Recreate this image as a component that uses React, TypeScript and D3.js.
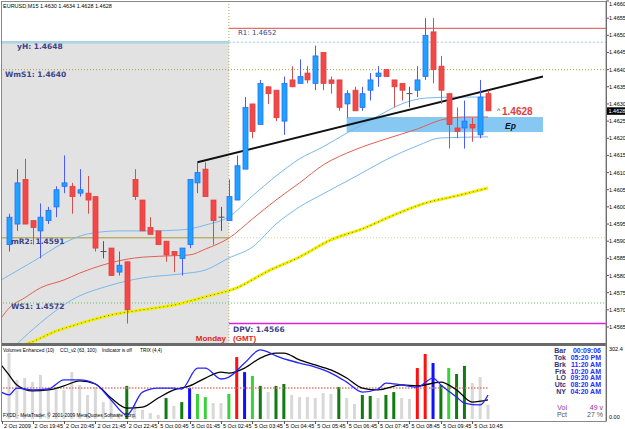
import React from "react";
import * as d3 from "d3";

// ---- data ----
const title = "EURUSD,M15  1.4630 1.4634 1.4628 1.4628";

const opens = [1.4589, 1.4595, 1.4608, 1.4596, 1.4593, 1.4596, 1.46, 1.4606, 1.4606, 1.4604, 1.4604, 1.4603, 1.4587, 1.4588, 1.4581, 1.4584,
  1.4608, 1.4602, 1.4594, 1.4593, 1.459, 1.4587, 1.4585, 1.4589, 1.4607, 1.4611, 1.4602, 1.4597, 1.4596, 1.4602, 1.4611, 1.463,
  1.4624, 1.4635, 1.4634, 1.4625, 1.4637, 1.4636, 1.4639, 1.4636, 1.4645, 1.4637, 1.4637, 1.463, 1.4634, 1.4629, 1.4634, 1.4638,
  1.464, 1.4637, 1.4636, 1.4633, 1.4634, 1.4638, 1.4651, 1.4641, 1.4633, 1.4623, 1.4623, 1.4624, 1.4621, 1.4633];
const highs = [1.4598, 1.4611, 1.4614, 1.4596, 1.4601, 1.46, 1.4606, 1.4615, 1.4607, 1.4611, 1.4609, 1.4603, 1.459, 1.4588, 1.4587, 1.4584,
  1.4611, 1.4602, 1.4597, 1.4593, 1.459, 1.4587, 1.4588, 1.4608, 1.4613, 1.4613, 1.4602, 1.46, 1.4608, 1.4615, 1.4632, 1.463,
  1.4637, 1.4635, 1.4634, 1.4638, 1.4641, 1.4643, 1.4641, 1.4647, 1.4645, 1.4638, 1.4637, 1.4634, 1.4635, 1.4635, 1.4639, 1.4641,
  1.464, 1.4637, 1.4636, 1.4635, 1.4641, 1.4655, 1.4655, 1.4644, 1.4633, 1.4629, 1.4631, 1.4626, 1.4637, 1.4634];
const lows = [1.4587, 1.4593, 1.4595, 1.4589, 1.4585, 1.4595, 1.4597, 1.4604, 1.4598, 1.4603, 1.4598, 1.4587, 1.4585, 1.458, 1.458, 1.4566,
  1.4602, 1.4593, 1.4592, 1.4589, 1.4584, 1.4581, 1.458, 1.4588, 1.4604, 1.4603, 1.4589, 1.4593, 1.4596, 1.4602, 1.4611, 1.462,
  1.4624, 1.463, 1.4625, 1.4621, 1.4635, 1.4636, 1.4636, 1.4634, 1.4634, 1.4633, 1.4628, 1.4626, 1.4628, 1.4628, 1.4631, 1.4635,
  1.4638, 1.4629, 1.4631, 1.4629, 1.4632, 1.4637, 1.4636, 1.463, 1.4617, 1.462, 1.4617, 1.4619, 1.462, 1.4628];
const closes = [1.4597, 1.4607, 1.4595, 1.4594, 1.4597, 1.4599, 1.4605, 1.4607, 1.4603, 1.4605, 1.4602, 1.4588, 1.4587, 1.458, 1.4583, 1.457,
  1.4603, 1.4593, 1.4592, 1.4589, 1.4586, 1.4586, 1.4588, 1.4608, 1.461, 1.4603, 1.4596, 1.4597, 1.4603, 1.4612, 1.4629, 1.4622,
  1.4636, 1.4633, 1.4626, 1.4636, 1.4635, 1.4638, 1.4637, 1.4644, 1.4636, 1.4636, 1.4629, 1.4633, 1.4628, 1.4633, 1.4637, 1.4639,
  1.4638, 1.4635, 1.4634, 1.4633, 1.4637, 1.465, 1.464, 1.4634, 1.4624, 1.4622, 1.4625, 1.4623, 1.4632, 1.4628];

// moving averages / envelope, [bar index, price]
const upperBand = [[-1, 1.45787], [3, 1.4584], [7, 1.45895], [10, 1.45921], [14, 1.4593], [18, 1.4593], [22, 1.45933], [25, 1.45947],
  [28, 1.45971], [31, 1.46032], [34, 1.4609], [37, 1.4614], [40, 1.46175], [43, 1.46215], [47, 1.46265], [50, 1.463], [53, 1.46317],
  [57, 1.4632], [61, 1.4632]];
const midMA = [[-1, 1.45676], [0, 1.45705], [2, 1.45735], [4, 1.45764], [7, 1.45787], [9, 1.45807], [12, 1.45831], [16, 1.45851],
  [20, 1.45857], [23, 1.4586], [25, 1.45877], [28, 1.45909], [31, 1.45965], [34, 1.4602], [37, 1.4607], [40, 1.46122], [44, 1.46166],
  [48, 1.46198], [52, 1.46227], [55, 1.46253], [58, 1.46262], [61, 1.46262]];
const lowerBand = [[-1, 1.45554], [1, 1.456], [4, 1.45662], [8, 1.45729], [13, 1.45772], [17, 1.45793], [22, 1.45805], [25, 1.45816],
  [28, 1.45851], [31, 1.45883], [34, 1.4595], [37, 1.46], [40, 1.46038], [44, 1.46087], [48, 1.46137], [52, 1.46178], [55, 1.46201],
  [61, 1.46204]];
const slowMA = [[0, 1.45595], [2, 1.456], [6, 1.45638], [9, 1.4566], [13, 1.45685], [17, 1.457], [21, 1.45714], [25, 1.45738],
  [29, 1.45764], [33, 1.45813], [37, 1.45854], [41, 1.45904], [45, 1.45936], [49, 1.45976], [53, 1.46011], [57, 1.46032], [61, 1.46055]];

const trendLine = [[24, 1.4613], [68, 1.4638]];
const entryZone = { from: 43, to: 68, top: 1.46262, bottom: 1.46218 };

const levelNames = ["R1", "yH", "WmS1", "mR2", "WS1", "DPV"];
const levelPrices = [1.4652, 1.4648, 1.464, 1.4591, 1.4572, 1.4566];
const sessionStart = 28;

const priceTicks = [1.4565, 1.457, 1.4575, 1.458, 1.4585, 1.459, 1.4595, 1.46, 1.4605, 1.461, 1.4615, 1.462, 1.4625, 1.463,
  1.4635, 1.464, 1.4645, 1.465, 1.4655, 1.466];
const lastPrice = 1.4628;

const timeTickIdx = [3, 7, 11, 15, 19, 23, 27, 31, 35, 39, 43, 47, 51, 55, 59];
const timeTickLabels = ["2 Oct 19:45", "2 Oct 20:45", "2 Oct 21:45", "2 Oct 22:45", "5 Oct 00:45", "5 Oct 01:45", "5 Oct 02:45",
  "5 Oct 03:45", "5 Oct 04:45", "5 Oct 05:45", "5 Oct 06:45", "5 Oct 07:45", "5 Oct 08:45", "5 Oct 09:45", "5 Oct 10:45"];

// lower window
const volumes = [277, 164, 172, 155, 185, 130, 130, 122, 197, 143, 101, 134, 71, 80, 25, 139, 59, 38, 25, 17, 88, 55, 71, 130, 105, 92,
  67, 67, 105, 260, 197, 181, 139, 113, 139, 147, 101, 92, 92, 88, 109, 105, 134, 88, 63, 101, 97, 88, 101, 113, 88, 84, 214, 273,
  235, 143, 214, 189, 223, 151, 176, 59];
const volumeKinds = "gggggggggggggggdggggdgdbllgglrbldgddggggggdggddgddggrrbdlddggg";
const cciLine = [[-1, 113], [0, 101], [1, 130], [3, 122], [5, 126], [7, 164], [9, 164], [11, 147], [13, 80], [15, 17], [17, 113],
  [19, 130], [21, 130], [22, 126], [24, 214], [25, 214], [27, 168], [28, 176], [30, 235], [32, 290], [33, 281], [34, 265], [37, 235],
  [39, 218], [41, 193], [43, 155], [45, 113], [47, 126], [48, 151], [50, 143], [52, 134], [54, 172], [55, 143], [57, 92], [58, 67],
  [60, 59], [61, 101]];
const trixLine = [[-1, 227], [0, 185], [1, 143], [3, 118], [5, 122], [7, 139], [9, 160], [11, 147], [13, 88], [15, 46], [17, 50],
  [19, 88], [21, 122], [23, 139], [25, 172], [27, 197], [28, 193], [30, 214], [32, 256], [34, 277], [35, 277], [37, 248], [39, 227],
  [41, 206], [43, 172], [45, 130], [47, 122], [50, 143], [52, 139], [55, 155], [57, 122], [59, 71], [61, 80]];
const oscLevel = 130;
const volMax = 302.4;

const infoLabels = ["Bar", "Tok", "Brk", "Frk", "LO", "Utc", "NY"];
const infoValues = ["00:09:06", "05:20 PM", "11:20 AM", "10:20 AM", "09:20 AM", "08:20 AM", "04:20 AM"];

const volColor: Record<string, string> = { g: "#d8d8d8", d: "#137a13", l: "#3ad23a", r: "#ff1010", b: "#1010ff" };

export default function App() {
  const axisX = 606;
  const x = d3.scaleLinear().domain([0, 61]).range([9, 488]);
  const y = d3.scaleLinear().domain([1.4565, 1.466]).range([327, 1]);
  const yv = d3.scaleLinear().domain([0, volMax]).range([419, 347]);

  const priceLine = d3.line<number[]>().x(d => x(d[0])).y(d => y(d[1])).curve(d3.curveMonotoneX);
  const oscLine = d3.line<number[]>().x(d => x(d[0])).y(d => yv(d[1])).curve(d3.curveMonotoneX);

  const splitX = x(sessionStart);
  const small = "Liberation Sans, Arial, sans-serif";
  const verdana = "DejaVu Sans, Verdana, sans-serif";
  const lv = (name: string) => y(levelPrices[levelNames.indexOf(name)]);

  return (
    <svg width={625} height={429} style={{ position: "absolute", left: 0, top: 0 }} fontFamily={small}>
      <defs>
        <clipPath id="mainClip"><rect x={2} y={2} width={axisX - 2} height={341} /></clipPath>
        <clipPath id="subClip"><rect x={2} y={347} width={axisX - 2} height={74} /></clipPath>
      </defs>
      <rect width={625} height={429} fill="#fff" />

      <g clipPath="url(#mainClip)">
        {/* previous session shade */}
        <rect x={2} y={lv("yH")} width={splitX - 2} height={343 - lv("yH")} fill="#e2e2e2" />
        <line x1={splitX} x2={splitX} y1={1} y2={343} stroke="#b8a860" strokeDasharray="1,2" />

        {/* pivot levels */}
        <line x1={splitX} x2={axisX} y1={lv("R1")} y2={lv("R1")} stroke="#e07070" strokeWidth={1.2} />
        <line x1={0} x2={splitX} y1={lv("yH")} y2={lv("yH")} stroke="#a8d4e4" strokeWidth={2.5} />
        <line x1={splitX} x2={axisX} y1={lv("yH")} y2={lv("yH")} stroke="#90c8e0" strokeDasharray="2,2" />
        <line x1={0} x2={axisX} y1={lv("WmS1")} y2={lv("WmS1")} stroke="#b0a040" strokeDasharray="1,2" />
        <line x1={0} x2={splitX} y1={lv("mR2")} y2={lv("mR2")} stroke="#b8b070" strokeWidth={1.5} />
        <line x1={splitX} x2={axisX} y1={lv("mR2")} y2={lv("mR2")} stroke="#d0c898" strokeDasharray="1,2" />
        <line x1={0} x2={axisX} y1={lv("WS1")} y2={lv("WS1")} stroke="#60c060" strokeDasharray="1,2" />
        <line x1={splitX} x2={axisX} y1={lv("DPV")} y2={lv("DPV")} stroke="#e020e0" strokeWidth={1.5} />

        {/* entry zone */}
        <rect x={x(entryZone.from)} y={y(entryZone.top)} width={x(entryZone.to) - x(entryZone.from)}
          height={y(entryZone.bottom) - y(entryZone.top)} fill="#86c8f2" />

        {/* averages */}
        <path d={priceLine(slowMA) || ""} fill="none" stroke="#f2ee00" strokeWidth={3} />
        <path d={priceLine(slowMA) || ""} fill="none" stroke="#333" strokeWidth={1} strokeDasharray="1,3" opacity={0.7} />
        <path d={priceLine(upperBand) || ""} fill="none" stroke="#78b8ee" strokeWidth={1} />
        <path d={priceLine(lowerBand) || ""} fill="none" stroke="#78b8ee" strokeWidth={1} />
        <path d={priceLine(midMA) || ""} fill="none" stroke="#e06050" strokeWidth={1} />

        <path d={priceLine(trendLine) || ""} fill="none" stroke="#111" strokeWidth={2} />

        {/* candles */}
        {opens.map((o, i) => {
          const c = closes[i];
          const cx = Math.round(x(i)) + 0.5;
          if (o === c) {
            return (
              <g key={i} stroke="#555">
                <line x1={cx} x2={cx} y1={y(highs[i])} y2={y(lows[i])} />
                <line x1={cx - 3} x2={cx + 3} y1={y(o)} y2={y(o)} />
              </g>
            );
          }
          const up = c > o;
          const top = y(Math.max(o, c));
          const bot = y(Math.min(o, c));
          return (
            <g key={i}>
              <line x1={cx} x2={cx} y1={y(highs[i])} y2={y(lows[i])} stroke={up ? "#4a5cff" : "#d05050"} />
              <rect x={cx - 2.5} y={top} width={5} height={Math.max(1, bot - top)}
                fill={up ? "#1ea2ff" : "#f24848"} stroke={up ? "#2c6cff" : "#e04040"} strokeWidth={0.8} />
            </g>
          );
        })}
      </g>

      {/* level labels */}
      <g fontFamily={verdana} fill="#3c4488">
        <text x={238} y={lv("R1") + 7} fontSize={7}>R1:  1.4652</text>
        <text x={17} y={lv("yH") + 7} fontSize={7.5} fontWeight="bold">yH:  1.4648</text>
        <text x={5} y={lv("WmS1") + 7} fontSize={7.5} fontWeight="bold">WmS1:  1.4640</text>
        <text x={11} y={lv("mR2") + 6} fontSize={7.5} fontWeight="bold">mR2:  1.4591</text>
        <text x={11} y={lv("WS1") + 6} fontSize={7.5} fontWeight="bold">WS1:  1.4572</text>
        <text x={233} y={lv("DPV") + 8} fontSize={7.5} fontWeight="bold">DPV:  1.4566</text>
      </g>
      <text x={226} y={341} textAnchor="end" fontFamily={small} fontSize={8} fontWeight="bold" fill="#e02424">Monday</text>
      <text x={233} y={341} fontFamily={small} fontSize={8} fontWeight="bold" fill="#e02424">(GMT)</text>
      <text x={497} y={y(lastPrice) + 2} fontSize={7} fill="#333">^</text>
      <text x={502} y={y(lastPrice) + 4} fontSize={10} fontWeight="bold" fill="#e04040">1.4628</text>
      <text x={505} y={y(entryZone.bottom) - 3} fontSize={8.5} fontWeight="bold" fontStyle="italic" fill="#111">Ep</text>

      <text x={3} y={8} fontSize={5.5} fill="#000">{title}</text>

      {/* price axis */}
      <line x1={axisX + 0.5} x2={axisX + 0.5} y1={1} y2={421} stroke="#555" />
      {priceTicks.map(p => (
        <g key={p}>
          <line x1={axisX} x2={axisX + 3} y1={y(p)} y2={y(p)} stroke="#555" />
          <text x={609} y={Math.max(6, y(p) + 2)} fontSize={5.5} fill="#000">{p.toFixed(4)}</text>
        </g>
      ))}
      <rect x={607} y={y(lastPrice) - 3.5} width={18} height={7.5} fill="#000" />
      <text x={608.5} y={y(lastPrice) + 2.2} fontSize={5.5} fill="#fff">{lastPrice.toFixed(4)}</text>

      {/* panel separator and frame */}
      <rect x={1} y={343} width={axisX - 1} height={3} fill="#6a6a6a" />
      <rect x={1.5} y={1.5} width={axisX - 1.5} height={420} fill="none" stroke="#888" />

      {/* lower window */}
      <g clipPath="url(#subClip)">
        {volumes.map((v, i) => (
          <rect key={i} x={x(i) - 1.5} y={yv(v)} width={3} height={yv(0) - yv(v)} fill={volColor[volumeKinds[i]]} />
        ))}
        <line x1={0} x2={x(61)} y1={yv(oscLevel)} y2={yv(oscLevel)} stroke="#e07a6a" strokeWidth={1.5} strokeDasharray="1.5,1.5" />
        <path d={oscLine(trixLine) || ""} fill="none" stroke="#000" strokeWidth={1.3} />
        <path d={oscLine(cciLine) || ""} fill="none" stroke="#2424ff" strokeWidth={1.3} />
      </g>
      <g fontSize={4.8} fill="#000">
        <text x={3} y={352}>Volumes Enhanced (10)</text>
        <text x={60} y={352}>CCI_v2 (63, 100)</text>
        <text x={102} y={352}>Indicator is off</text>
        <text x={140} y={352}>TRIX (4,4)</text>
        <text x={3} y={417} fontSize={4.8}>FXDD - MetaTrader, © 2001-2009 MetaQuotes Software Corp.</text>
      </g>
      <text x={609} y={351} fontSize={5.5} fill="#000">{volMax.toFixed(1)}</text>
      <text x={609} y={419} fontSize={5.5} fill="#000">0.00</text>

      {/* session clock */}
      <g fontSize={7} fontWeight="bold">
        {infoLabels.map((t, k) => (
          <g key={t}>
            <text x={566} y={353 + k * 6.85} textAnchor="end" fill="#33337a">{t}</text>
            <text x={601} y={353 + k * 6.85} textAnchor="end" fill="#2a2aff">{infoValues[k]}</text>
          </g>
        ))}
        <text x={567} y={410} textAnchor="end" fill="#a030a0" fontWeight="normal">Vol</text>
        <text x={603} y={410} textAnchor="end" fill="#a030a0" fontWeight="normal">49 v</text>
        <text x={567} y={417} textAnchor="end" fill="#556" fontWeight="normal">Pct</text>
        <text x={603} y={417} textAnchor="end" fill="#556" fontWeight="normal">27 %</text>
      </g>

      {/* time axis */}
      <g fontSize={5.5} fill="#000">
        <line x1={2.5} x2={2.5} y1={421} y2={424} stroke="#555" />
        <text x={4} y={428}>2 Oct 2009</text>
        {timeTickIdx.map((t, k) => (
          <g key={t}>
            <line x1={Math.round(x(t)) + 0.5} x2={Math.round(x(t)) + 0.5} y1={421} y2={424} stroke="#555" />
            <text x={x(t) + 2} y={428}>{timeTickLabels[k]}</text>
          </g>
        ))}
      </g>
    </svg>
  );
}
